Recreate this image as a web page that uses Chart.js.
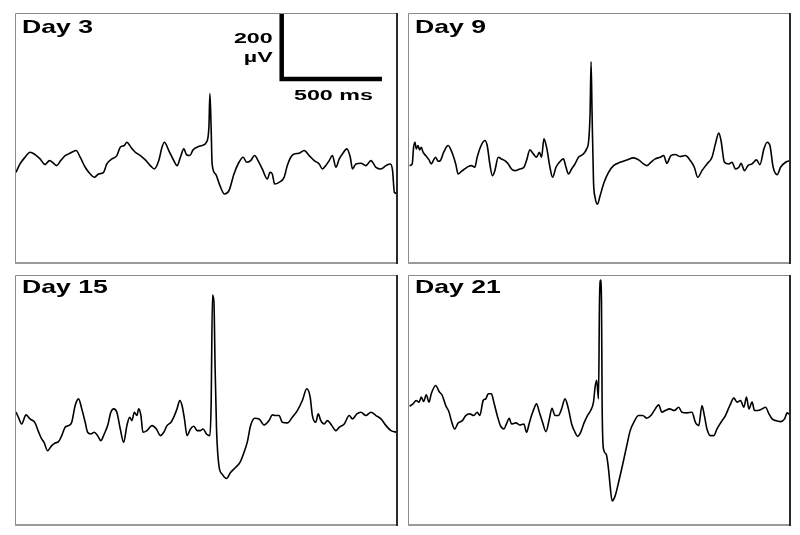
<!DOCTYPE html>
<html lang="en">
<head>
    <meta charset="UTF-8">
    <title>Field potential traces - Day 3 / 9 / 15 / 21</title>
    <script src="https://cdn.jsdelivr.net/npm/chart.js"></script>
    <style>
        body {
            margin: 0;
            background: #ffffff;
            width: 800px;
            height: 535px;
            position: relative;
            overflow: hidden;
        }
        .panel {
            position: absolute;
        }
    </style>
</head>
<body>

    <canvas id="c3" class="panel" width="383" height="251" style="left:15px; top:13px;"></canvas>
    <canvas id="c9" class="panel" width="383" height="251" style="left:408px; top:13px;"></canvas>
    <canvas id="c15" class="panel" width="383" height="251" style="left:15px; top:275px;"></canvas>
    <canvas id="c21" class="panel" width="383" height="251" style="left:408px; top:275px;"></canvas>

    <script>
        // --- data: time in ms, voltage in µV ---
        const day3T = [5, 25, 50, 75, 100, 125, 150, 172, 192, 208, 228, 250, 267, 283, 305, 325, 350, 375, 395, 417,
            442, 458, 483, 508, 525, 545, 558, 578, 600, 625, 650, 675, 695, 717, 733, 745, 767, 792, 808, 825,
            842, 855, 872, 888, 908, 933, 955, 967, 972, 978, 983, 1000, 1022, 1045, 1067, 1092, 1117, 1138, 1155, 1175,
            1195, 1212, 1233, 1258, 1272, 1283, 1295, 1317, 1342, 1358, 1375, 1392, 1417, 1442, 1467, 1492, 1517, 1533, 1550, 1567,
            1583, 1600, 1617, 1633, 1655, 1672, 1683, 1700, 1725, 1750, 1775, 1800, 1825, 1850, 1872, 1883, 1892, 1905];
        const day3V = [-101, -76, -56, -41, -48, -61, -78, -66, -74, -81, -66, -51, -46, -41, -36, -56, -86, -106, -116, -106,
            -101, -76, -61, -51, -26, -21, -11, -26, -41, -51, -64, -81, -91, -66, -26, -11, -36, -66, -81, -56,
            -31, -48, -51, -34, -26, -21, -11, 34, 134, 34, -76, -106, -141, -166, -156, -106, -71, -56, -71, -66,
            -51, -66, -91, -121, -101, -106, -136, -131, -116, -81, -56, -46, -44, -36, -51, -66, -76, -91, -81, -66,
            -51, -86, -61, -46, -31, -56, -91, -76, -74, -81, -66, -86, -91, -81, -76, -96, -161, -164];

        const day9T = [8, 21, 28, 35, 41, 50, 58, 66, 75, 88, 105, 116, 128, 138, 150, 161, 178, 200, 221, 238,
            250, 266, 283, 300, 316, 333, 345, 361, 383, 395, 408, 421, 433, 450, 466, 483, 500, 516, 533, 558,
            578, 591, 608, 625, 641, 655, 666, 678, 691, 708, 721, 738, 755, 775, 788, 800, 816, 833, 850, 871,
            891, 901, 908, 913, 918, 925, 933, 945, 958, 978, 1000, 1025, 1058, 1091, 1125, 1150, 1175, 1191, 1211, 1233,
            1258, 1275, 1291, 1311, 1333, 1358, 1383, 1408, 1428, 1445, 1466, 1491, 1516, 1533, 1550, 1561, 1578, 1600, 1616, 1633,
            1650, 1661, 1678, 1695, 1716, 1738, 1755, 1775, 1791, 1805, 1821, 1841, 1858, 1883, 1908];
        const day9V = [-81, -76, -26, -11, -31, -21, -34, -26, -41, -51, -64, -76, -64, -56, -68, -66, -41, -21, -44, -76,
            -106, -98, -91, -84, -81, -86, -56, -26, -6, -21, -76, -111, -96, -56, -61, -66, -76, -91, -96, -91,
            -86, -66, -34, -46, -56, -41, -56, -1, -26, -86, -116, -86, -71, -61, -86, -106, -91, -76, -56, -48,
            -31, -6, 74, 229, 74, -126, -176, -196, -171, -131, -101, -81, -71, -64, -58, -64, -76, -81, -71, -61,
            -56, -51, -74, -51, -48, -54, -51, -66, -86, -116, -96, -76, -56, -16, 16, -6, -71, -76, -71, -91,
            -86, -74, -96, -81, -76, -64, -78, -31, -11, -21, -86, -108, -86, -71, -66];

        const day15T = [5, 17, 33, 55, 75, 100, 117, 133, 145, 162, 183, 200, 217, 233, 250, 267, 283, 300, 317, 333,
            350, 362, 378, 395, 412, 428, 445, 462, 478, 492, 508, 525, 542, 558, 572, 583, 595, 608, 617, 628,
            638, 658, 683, 705, 725, 742, 758, 778, 795, 808, 822, 833, 845, 858, 875, 892, 908, 925, 938, 955,
            972, 978, 985, 992, 998, 1005, 1017, 1033, 1055, 1075, 1100, 1122, 1142, 1158, 1175, 1195, 1217, 1242, 1267, 1283,
            1300, 1317, 1333, 1358, 1383, 1408, 1433, 1455, 1472, 1483, 1500, 1512, 1525, 1542, 1558, 1578, 1600, 1617, 1642, 1667,
            1683, 1705, 1725, 1750, 1775, 1800, 1825, 1850, 1875, 1905];
        const day15V = [-35, -50, -70, -43, -55, -67, -93, -115, -125, -150, -135, -127, -123, -105, -80, -75, -65, -15, 5, -25,
            -65, -95, -100, -95, -105, -120, -100, -75, -35, -25, -35, -85, -125, -75, -50, -60, -35, -45, -25, -45,
            -95, -90, -75, -85, -105, -95, -75, -65, -45, -25, 0, -15, -55, -105, -85, -77, -90, -90, -85, -100,
            -105, -15, 315, 295, 95, -85, -195, -220, -233, -215, -200, -185, -155, -125, -75, -53, -55, -73, -60, -43,
            -45, -45, -65, -67, -50, -30, 0, 35, 10, -45, -65, -40, -60, -70, -60, -73, -90, -80, -70, -45,
            -55, -40, -35, -45, -35, -45, -55, -75, -90, -95];

        const day21T = [8, 25, 41, 55, 66, 78, 91, 105, 116, 138, 155, 171, 188, 205, 216, 233, 250, 271, 288, 308,
            328, 345, 358, 375, 388, 400, 416, 428, 445, 461, 478, 491, 505, 516, 538, 558, 578, 591, 605, 616,
            628, 641, 655, 671, 688, 705, 718, 733, 750, 766, 783, 800, 816, 833, 845, 861, 878, 895, 911, 925,
            933, 941, 950, 955, 960, 965, 968, 975, 988, 1000, 1008, 1018, 1033, 1050, 1071, 1091, 1108, 1128, 1150, 1171,
            1191, 1211, 1233, 1250, 1266, 1283, 1305, 1328, 1350, 1366, 1391, 1416, 1433, 1450, 1466, 1478, 1491, 1508, 1525, 1541,
            1561, 1583, 1605, 1625, 1641, 1658, 1675, 1688, 1700, 1716, 1728, 1745, 1766, 1783, 1800, 1816, 1833, 1858, 1878, 1891, 1908];
        const day21V = [-17, -10, 0, -5, 10, -3, 17, -5, 20, 45, 27, 15, -15, -35, -60, -85, -67, -60, -45, -40,
            -45, -35, -45, 0, 5, 20, 20, -5, -45, -75, -85, -70, -53, -70, -67, -73, -70, -95, -67, -45,
            -25, -10, -35, -65, -93, -55, -23, -45, -45, -25, 5, -25, -70, -95, -107, -95, -67, -45, -30, -5,
            40, 60, 5, 295, 360, 295, -5, -145, -160, -205, -255, -300, -285, -245, -190, -135, -90, -63, -45, -45,
            -53, -45, -25, -13, -35, -30, -25, -30, -20, -35, -37, -35, -65, -75, -15, -45, -85, -105, -105, -85,
            -65, -45, -15, 7, -5, 0, -20, 10, -25, -5, -30, -30, -25, -20, -40, -55, -60, -63, -55, -37, -45];

        // scale bar: 200 µV vertical, 500 ms horizontal (drawn in the Day 3 panel)
        const scaleBarT = [1330, 1330, 1830];
        const scaleBarV = [378, 178, 178];

        const panelTitles = ['Day 3', 'Day 9', 'Day 15', 'Day 21'];
        const canvasIds = ['c3', 'c9', 'c15', 'c21'];
        const traceTimes = [day3T, day9T, day15T, day21T];
        const traceVolts = [day3V, day9V, day15V, day21V];

        const X_MAX = 1910;   // ms across one panel
        const Y_LIM = 375;    // µV from centre to edge

        function toPoints(ts, vs) {
            return ts.map((t, i) => ({ x: t, y: vs[i] }));
        }

        // draws text stretched horizontally like the original figure
        function wideText(ctx, text, x, y, size, stretch, align) {
            ctx.save();
            ctx.font = 'bold ' + size + 'px "Liberation Sans", Arial, sans-serif';
            ctx.fillStyle = '#000';
            ctx.textBaseline = 'alphabetic';
            ctx.translate(x, y);
            ctx.scale(stretch, 1);
            ctx.textAlign = align;
            ctx.fillText(text, 0, 0);
            ctx.restore();
        }

        const panelDecor = {
            id: 'panelDecor',
            afterDraw(chart, args, opts) {
                const ctx = chart.ctx;
                const w = chart.width, h = chart.height;
                // frame
                ctx.save();
                ctx.strokeStyle = '#8a8a8a';
                ctx.lineWidth = 1;
                ctx.beginPath();
                ctx.moveTo(0.5, h - 1);
                ctx.lineTo(0.5, 0.5);
                ctx.lineTo(w - 1, 0.5);
                ctx.stroke();
                ctx.lineWidth = 2;
                ctx.strokeStyle = '#9a9a9a';
                ctx.beginPath();
                ctx.moveTo(0, h - 1);
                ctx.lineTo(w, h - 1);
                ctx.stroke();
                ctx.strokeStyle = '#2a2a2a';
                ctx.beginPath();
                ctx.moveTo(w - 1, 0);
                ctx.lineTo(w - 1, h);
                ctx.stroke();
                ctx.restore();

                wideText(ctx, opts.title, 7, opts.titleY, 19, 1.4, 'left');

                if (opts.scaleBar) {
                    const xs = chart.scales.x, ys = chart.scales.y;
                    wideText(ctx, '200', xs.getPixelForValue(1285), ys.getPixelForValue(285), 15, 1.55, 'right');
                    wideText(ctx, 'µV', xs.getPixelForValue(1285), ys.getPixelForValue(228), 15, 1.55, 'right');
                    wideText(ctx, '500 ms', xs.getPixelForValue(1588), ys.getPixelForValue(114), 15, 1.55, 'center');
                }
            }
        };

        canvasIds.forEach((id, k) => {
            const datasets = [{
                data: toPoints(traceTimes[k], traceVolts[k]),
                borderColor: '#000',
                borderWidth: 1.6,
                pointRadius: 0,
                cubicInterpolationMode: 'monotone',
                borderJoinStyle: 'round'
            }];
            if (k === 0) {
                datasets.push({
                    data: toPoints(scaleBarT, scaleBarV),
                    borderColor: '#000',
                    borderWidth: 4.5,
                    pointRadius: 0,
                    tension: 0,
                    borderCapStyle: 'butt',
                    borderJoinStyle: 'miter'
                });
            }
            new Chart(document.getElementById(id), {
                type: 'line',
                data: { datasets: datasets },
                options: {
                    responsive: false,
                    animation: false,
                    devicePixelRatio: 1,
                    layout: { padding: 0 },
                    plugins: {
                        legend: { display: false },
                        tooltip: { enabled: false },
                        panelDecor: {
                            title: panelTitles[k],
                            titleY: k < 2 ? 20 : 18,
                            scaleBar: k === 0
                        }
                    },
                    scales: {
                        x: { type: 'linear', min: 0, max: X_MAX, display: false },
                        y: { type: 'linear', min: -Y_LIM, max: Y_LIM, display: false }
                    }
                },
                plugins: [panelDecor]
            });
        });
    </script>

</body>
</html>
